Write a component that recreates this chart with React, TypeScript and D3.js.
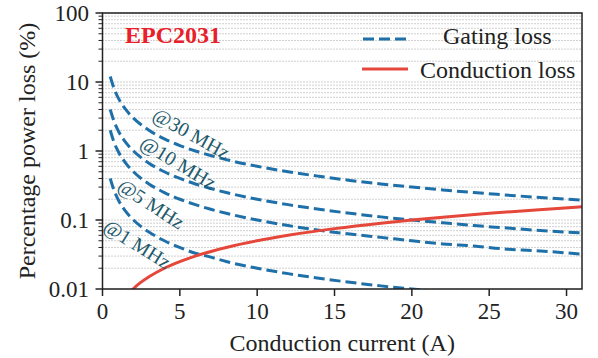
import React from "react";
import * as d3 from "d3";

// currents (A) at which the gating-loss curves were read
const gateCurrents = [0.5, 0.75, 1, 1.5, 2, 2.5, 3, 4, 5, 6, 7, 8, 10, 12, 14, 16, 18, 20, 22, 24, 26, 28, 31];
const gate30MHz = [12, 8, 6, 4, 3, 2.4, 2, 1.5, 1.2, 1.0, 0.86, 0.75, 0.6, 0.5, 0.43, 0.375, 0.333, 0.3, 0.273, 0.25, 0.231, 0.214, 0.194];
const gate10MHz = [4, 2.67, 2, 1.33, 1, 0.8, 0.667, 0.5, 0.4, 0.333, 0.286, 0.25, 0.2, 0.167, 0.143, 0.125, 0.111, 0.1, 0.091, 0.083, 0.077, 0.071, 0.065];
const gate5MHz = [2, 1.33, 1, 0.667, 0.5, 0.4, 0.333, 0.25, 0.2, 0.167, 0.143, 0.125, 0.1, 0.083, 0.071, 0.0625, 0.056, 0.05, 0.045, 0.042, 0.038, 0.036, 0.032];
const gate1MHz = [0.4, 0.267, 0.2, 0.133, 0.1, 0.08, 0.067, 0.05, 0.04, 0.033, 0.029, 0.025, 0.02, 0.0167, 0.0143, 0.0125, 0.0111, 0.01, 0.0091, 0.0083, 0.0077, 0.0071, 0.0065];

const condCurrents = [1.8, 2, 2.5, 3, 4, 5, 6, 8, 10, 12, 15, 18, 20, 22, 25, 28, 31];
const condLoss = [0.009, 0.0101, 0.0126, 0.015, 0.02, 0.025, 0.03, 0.04, 0.05, 0.06, 0.075, 0.09, 0.1, 0.11, 0.125, 0.14, 0.155];

const freqLabels = ["@30 MHz", "@10 MHz", "@5 MHz", "@1 MHz"];
const labelX = [5.75, 4.9, 3.15, 2.25];
const labelY = [1.8, 0.68, 0.172, 0.045];
const labelAngle = [29, 31, 33, 32];

const xTicks = [0, 5, 10, 15, 20, 25, 30];
const yTicks = [0.01, 0.1, 1, 10, 100];
const yTickLabels = ["0.01", "0.1", "1", "10", "100"];

const W = 598;
const H = 358;
const left = 102.5;
const right = 582;
const top = 13;
const bottom = 289;

const blue = "#1f70a8";
const red = "#e5473a";
const serif = { fontFamily: "'Liberation Serif', serif" };

export default function App() {
  const x = d3.scaleLinear().domain([0, 31]).range([left, right]);
  const y = d3.scaleLog().domain([0.01, 100]).range([bottom, top]);

  const line = d3
    .line<[number, number]>()
    .x((d) => x(d[0]))
    .y((d) => y(d[1]))
    .curve(d3.curveMonotoneX);

  const gateSeries = [gate30MHz, gate10MHz, gate5MHz, gate1MHz];
  const gridTicks = y.ticks();
  const minorTicks = gridTicks.filter((t) => !yTicks.some((m) => Math.abs(m - t) < 1e-9));

  return (
    <svg width={W} height={H} style={{ position: "absolute", left: 0, top: 0, background: "#fff" }}>
      <defs>
        <clipPath id="plot-clip">
          <rect x={left} y={top} width={right - left} height={bottom - top} />
        </clipPath>
      </defs>

      {/* grid */}
      {gridTicks.map((t, i) => (
        <line key={"g" + i} x1={left} x2={right} y1={y(t)} y2={y(t)} stroke="#a0a0a0" strokeWidth={1} strokeDasharray="1,2" />
      ))}

      <g clipPath="url(#plot-clip)">
        {gateSeries.map((s, i) => (
          <path
            key={"gs" + i}
            d={line(gateCurrents.map((c, j) => [c, s[j]] as [number, number])) || ""}
            fill="none"
            stroke={blue}
            strokeWidth={3}
            strokeDasharray="11,5"
          />
        ))}
        <path
          d={line(condCurrents.map((c, j) => [c, condLoss[j]] as [number, number])) || ""}
          fill="none"
          stroke={red}
          strokeWidth={3}
        />
      </g>

      {freqLabels.map((t, i) => (
        <text
          key={"fl" + i}
          transform={`translate(${x(labelX[i])},${y(labelY[i])}) rotate(${labelAngle[i]})`}
          textAnchor="middle"
          dy="0.35em"
          fontSize={20}
          fill="#1e5a6c"
          style={serif}
        >
          {t}
        </text>
      ))}

      <text x={125} y={43} fontSize={24} fontWeight="bold" fill="#e8202a" style={serif}>
        EPC2031
      </text>

      {/* legend */}
      <line x1={363} x2={408} y1={39} y2={39} stroke={blue} strokeWidth={3} strokeDasharray="11,5" />
      <text x={443} y={44} fontSize={24} fill="#222" style={serif}>
        Gating loss
      </text>
      <line x1={362} x2={408} y1={69} y2={69} stroke={red} strokeWidth={3} />
      <text x={420} y={78} fontSize={24} fill="#222" style={serif}>
        Conduction loss
      </text>

      {/* frame */}
      <rect x={left} y={top} width={right - left} height={bottom - top} fill="none" stroke="#222" strokeWidth={1.5} />

      {/* y ticks */}
      {yTicks.map((t, i) => (
        <g key={"yt" + i}>
          <line x1={left - 7} x2={left} y1={y(t)} y2={y(t)} stroke="#222" strokeWidth={1.5} />
          <text x={89} y={y(t)} dy="0.35em" textAnchor="end" fontSize={23} fill="#222" style={serif}>
            {yTickLabels[i]}
          </text>
        </g>
      ))}
      {minorTicks.map((t, i) => (
        <line key={"ym" + i} x1={left - 4} x2={left} y1={y(t)} y2={y(t)} stroke="#222" strokeWidth={1} />
      ))}

      {/* x ticks */}
      {xTicks.map((t, i) => (
        <g key={"xt" + i}>
          <line x1={x(t)} x2={x(t)} y1={bottom} y2={bottom + 7} stroke="#222" strokeWidth={1.5} />
          <text x={x(t)} y={319} textAnchor="middle" fontSize={23} fill="#222" style={serif}>
            {t}
          </text>
        </g>
      ))}

      <text x={(left + right) / 2} y={351} textAnchor="middle" fontSize={24} fill="#222" style={serif}>
        Conduction current (A)
      </text>
      <text
        transform={`translate(35,${(top + bottom) / 2}) rotate(-90)`}
        textAnchor="middle"
        fontSize={24}
        fill="#222"
        style={serif}
      >
        Percentage power loss (%)
      </text>
    </svg>
  );
}
